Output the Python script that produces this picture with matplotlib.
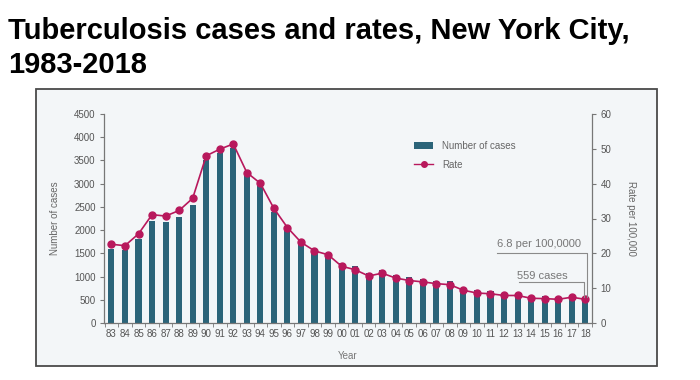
import matplotlib
matplotlib.use("Agg")
import matplotlib.pyplot as plt
from matplotlib.patches import Rectangle
from matplotlib.lines import Line2D
from matplotlib.patches import Patch

years = ["83", "84", "85", "86", "87", "88", "89", "90", "91", "92", "93", "94",
         "95", "96", "97", "98", "99", "00", "01", "02", "03", "04", "05", "06",
         "07", "08", "09", "10", "11", "12", "13", "14", "15", "16", "17", "18"]
cases = [1600, 1570, 1810, 2200, 2170, 2290, 2540, 3520, 3660, 3770, 3160, 2960,
         2400, 2000, 1700, 1520, 1420, 1300, 1230, 1080, 1140, 1040, 985, 950,
         915, 895, 760, 710, 690, 650, 655, 585, 575, 565, 610, 559]
rates = [22.6, 22.2, 25.6, 31.1, 30.7, 32.3, 35.8, 48.0, 49.9, 51.4, 43.2, 40.1,
         32.9, 27.4, 23.2, 20.7, 19.6, 16.3, 15.3, 13.5, 14.3, 12.9, 12.2, 11.8,
         11.3, 11.0, 9.4, 8.6, 8.4, 7.9, 7.9, 7.1, 7.0, 6.8, 7.4, 6.8]
case_ticks = [0, 500, 1000, 1500, 2000, 2500, 3000, 3500, 4000, 4500]
rate_ticks = [0, 10, 20, 30, 40, 50, 60]

plt.rcParams['font.family'] = ['Liberation Sans', 'DejaVu Sans']

BAR = "#2b6479"
LINE = "#b8185c"
TXT = "#555555"
SPINE = "#777777"

fig = plt.figure(figsize=(7, 3.8), dpi=100)
fig.patch.set_facecolor("white")

# panel box
box = Rectangle((36/700, 1-366/380), (657-36)/700, (366-89)/380,
                transform=fig.transFigure, facecolor="#f3f6f8",
                edgecolor="#4a4a4a", lw=1.3, zorder=-5)
fig.patches.append(box)

fig.text(8/700, 1-31/380, "Tuberculosis cases and rates, New York City,",
         fontsize=21, fontweight="bold", ha="left", va="center", color="black")
fig.text(8/700, 1-65/380, "1983-2018",
         fontsize=21, fontweight="bold", ha="left", va="center", color="black")

ax = fig.add_axes([104/700, 1-323/380, (592-104)/700, (323-114)/380])
ax.patch.set_alpha(0)
x = list(range(len(years)))
ax.bar(x, cases, width=0.45, color=BAR, zorder=2)
ax.set_ylim(0, 4500)
ax.set_xlim(-0.55, len(years) - 0.55)
ax.set_yticks(case_ticks)
ax.set_xticks(x)
ax.set_xticklabels(years)
ax.set_xticks([i + 0.5 for i in range(-1, len(years))], minor=True)
ax.tick_params(axis="x", which="major", length=0, labelsize=7, colors=TXT, pad=4)
ax.tick_params(axis="x", which="minor", length=3, color=SPINE, direction="out")
ax.tick_params(axis="y", labelsize=7, colors=TXT, length=3, color=SPINE, pad=3)
for s in ["top", "right"]:
    ax.spines[s].set_visible(False)
for s in ["left", "bottom"]:
    ax.spines[s].set_color(SPINE)
    ax.spines[s].set_linewidth(0.9)
ax.set_ylabel("Number of cases", fontsize=7, color="#666666", labelpad=10)
ax.set_xlabel("Year", fontsize=7, color="#777777", labelpad=9)

ax2 = ax.twinx()
ax2.plot(x, rates, color=LINE, lw=1.2, marker="o", markersize=5, zorder=3)
ax2.set_ylim(0, 60)
ax2.set_yticks(rate_ticks)
ax2.tick_params(axis="y", labelsize=7, colors=TXT, length=3, color=SPINE, pad=3)
for s in ["top", "left", "bottom"]:
    ax2.spines[s].set_visible(False)
ax2.spines["right"].set_color(SPINE)
ax2.spines["right"].set_linewidth(0.9)
ax2.set_ylabel("Rate per 100,000", fontsize=7, color="#666666", rotation=270,
               labelpad=18)

# annotations
ac = "#8a8a8a"
ax2.plot([28.5, 35.15, 35.15], [20.0, 20.0, 7.6], color=ac, lw=0.8, zorder=4)
ax2.plot([30.1, 34.93, 34.93], [11.7, 11.7, 7.6], color=ac, lw=0.8, zorder=4)
ax2.text(31.6, 22.6, "6.8 per 100,0000", fontsize=8, color="#777777",
         ha="center", va="center")
ax2.text(31.8, 13.4, "559 cases", fontsize=8, color="#777777",
         ha="center", va="center")

handles = [Patch(facecolor=BAR, edgecolor="none"),
           Line2D([0], [0], color=LINE, lw=1, marker="o", markersize=4)]
leg = fig.legend(handles, ["Number of cases", "Rate"], loc="upper left",
                 bbox_to_anchor=(410/700, 1-137/380), frameon=False,
                 fontsize=7, handlelength=2.0, handleheight=0.6,
                 handletextpad=0.9, labelspacing=0.9, borderaxespad=0)
for t in leg.get_texts():
    t.set_color("#666666")

fig.savefig("out.png", dpi=100, facecolor="white")
